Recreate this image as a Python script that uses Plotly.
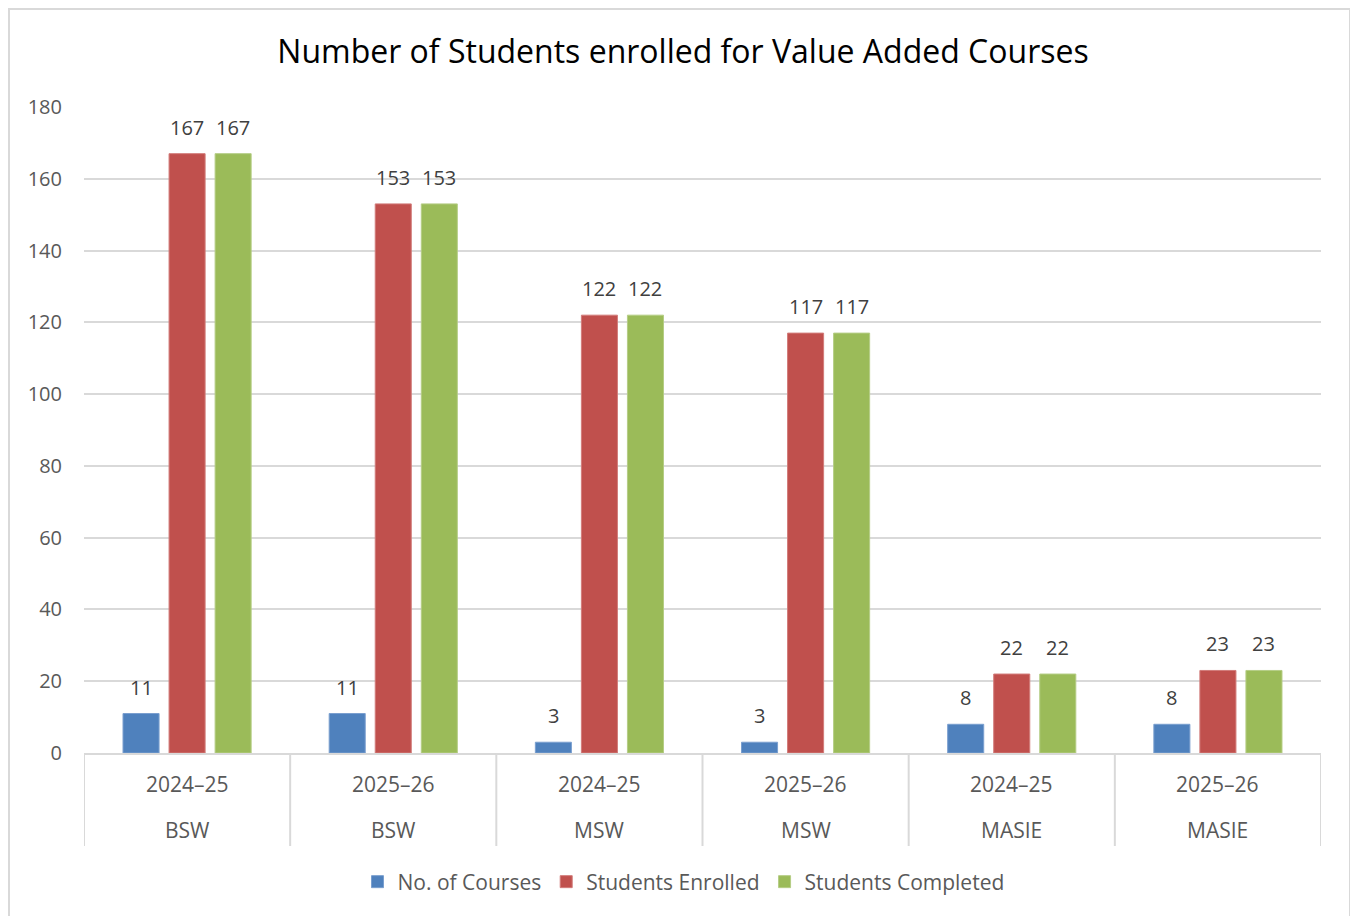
import plotly.graph_objects as go

years = ["2024–25", "2025–26", "2024–25", "2025–26", "2024–25", "2025–26"]
programs = ["BSW", "BSW", "MSW", "MSW", "MASIE", "MASIE"]
series_names = ["No. of Courses", "Students Enrolled", "Students Completed"]
courses = [11, 11, 3, 3, 8, 8]
enrolled = [167, 153, 122, 117, 22, 23]
completed = [167, 153, 122, 117, 22, 23]
colors = ["#4F81BD", "#C0504D", "#9BBB59"]
edge_colors = ["#7A9FCF", "#D27C7A", "#B5CD85"]

# The page body adds an 8px margin; positions below are measured on the page.
OFF = 8
W, H = 1358 - OFF, 916 - OFF
PLOT_L, PLOT_R, PLOT_T, PLOT_B = 84, 1321, 107, 753
L = PLOT_L - OFF
R = W - (PLOT_R - OFF)
T = PLOT_T - OFF
B = H - (PLOT_B - OFF)
pw, ph = PLOT_R - PLOT_L, PLOT_B - PLOT_T

FONT = "Open Sans, Noto Sans, sans-serif"
bargap = 0.33
bargroupgap = 0.217

x = list(range(len(years)))
fig = go.Figure()
all_series = [courses, enrolled, completed]
for name, vals, c, ec in zip(series_names, all_series, colors, edge_colors):
    fig.add_trace(go.Bar(
        x=x, y=vals, name=name,
        marker=dict(color=c, line=dict(color=ec, width=1)),
        hoverinfo="y+name",
    ))

annotations = []
slot = (1 - bargap) / 3
for j, vals in enumerate(all_series):
    for i, v in enumerate(vals):
        annotations.append(dict(
            x=i + (j - 1) * slot, y=v, xref="x", yref="y",
            text=str(v), showarrow=False, yanchor="bottom", yshift=11,
            font=dict(family=FONT, size=20, color="#404040"),
        ))

def py(p):
    return (PLOT_B - p) / ph

def px(p):
    return (p - PLOT_L) / pw

for i in x:
    annotations.append(dict(x=i, y=py(784), xref="x", yref="paper", text=years[i],
                            showarrow=False, yanchor="middle",
                            font=dict(family=FONT, size=21, color="#595959")))
    annotations.append(dict(x=i, y=py(830), xref="x", yref="paper", text=programs[i],
                            showarrow=False, yanchor="middle",
                            font=dict(family=FONT, size=21, color="#595959")))

shapes = []
for i in range(len(years) + 1):
    shapes.append(dict(type="line", xref="x", yref="paper", x0=i - 0.5, x1=i - 0.5,
                       y0=0, y1=py(846), line=dict(color="#D9D9D9", width=2)))
shapes.append(dict(type="rect", xref="paper", yref="paper",
                   x0=px(9), x1=px(1350), y0=py(9), y1=py(940),
                   line=dict(color="#D9D9D9", width=2), layer="below"))

fig.update_layout(
    width=W, height=H,
    margin=dict(l=L, r=R, t=T, b=B),
    paper_bgcolor="white", plot_bgcolor="white",
    barmode="group", bargap=bargap, bargroupgap=bargroupgap,
    title=dict(text="Number of Students enrolled for Value Added Courses",
               x=(683 - OFF) / W, y=1 - (52 - OFF) / H, xref="container", yref="container",
               xanchor="center", yanchor="middle",
               font=dict(family=FONT, size=32, color="#000000")),
    xaxis=dict(range=[-0.5, len(years) - 0.5], showticklabels=False, showgrid=False,
               zeroline=False, showline=True, linecolor="#D9D9D9", linewidth=2,
               fixedrange=True),
    yaxis=dict(range=[0, 180], dtick=20, showgrid=True, gridcolor="#D9D9D9", gridwidth=1.5,
               zeroline=False, ticks="", ticklabelstandoff=21,
               tickfont=dict(family=FONT, size=20, color="#595959")),
    legend=dict(orientation="h", xref="container", x=(683.5 - OFF) / W, xanchor="center",
                yref="container", y=1 - (882 - OFF) / H, yanchor="middle",
                font=dict(family=FONT, size=21, color="#595959"),
                itemwidth=30, tracegroupgap=0),
    annotations=annotations,
    shapes=shapes,
    showlegend=True,
)

fig.write_html("out.html")
